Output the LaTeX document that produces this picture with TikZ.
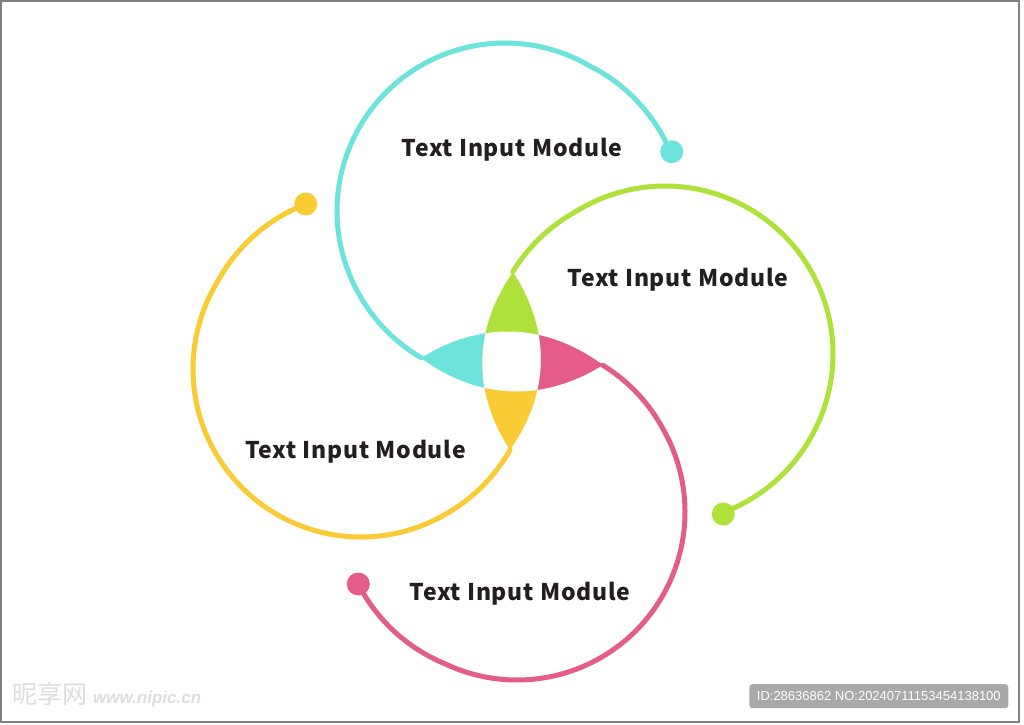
\documentclass[tikz,border=0pt]{standalone}
\usepackage{fontspec}
\setmainfont{Noto Sans CJK SC}
\newfontfamily\lblfont{Noto Sans CJK SC}[LetterSpace=3.5]
\newfontfamily\idfont{Liberation Sans}
\definecolor{cyanc}{HTML}{6CE3DB}
\definecolor{greenc}{HTML}{AEE23A}
\definecolor{pinkc}{HTML}{E45C89}
\definecolor{yellowc}{HTML}{F9CB34}
\definecolor{textc}{HTML}{231F20}
\definecolor{framec}{HTML}{808080}
\definecolor{wmgray}{HTML}{A9A9A9}
\definecolor{logoc}{HTML}{DDDDDD}
\newcommand\spiralarc[7]{%
  \draw[#7, line width=5pt, line cap=round] plot[domain=#3:#4, samples=160, variable=\t]
  ({#1+(168+#5*max(0,1-(\t-#3)/30)+#6*max(0,1-(#4-\t)/40))*cos(\t)},
   {#2+(168+#5*max(0,1-(\t-#3)/30)+#6*max(0,1-(#4-\t)/40))*sin(\t)});}
\tikzset{
  dotnode/.style={circle, inner sep=0pt, minimum size=23pt},
  lbl/.style={font=\lblfont\fontsize{23}{28}\selectfont\bfseries, text=textc, inner sep=0pt, anchor=base},
  petal/.style={bend left=34},
}
\begin{document}
\begin{tikzpicture}[x=1pt,y=-1pt]
\useasboundingbox (0,0) rectangle (1024,724);
\fill[white] (0,0) rectangle (1024,724);
\draw[framec, line width=1.5pt] (1,1) rectangle (1019,722);

% tips of the central star
\coordinate (HL) at (421,358);
\coordinate (HR) at (603,365);
\coordinate (VT) at (513,272);
\coordinate (VB) at (510,450);

% arcs
\spiralarc{505}{211}{119.7}{340.4}{1}{7.8}{cyanc}
\spiralarc{665}{354}{208.4}{430}{5}{0.8}{greenc}
\spiralarc{517}{512}{300.3}{515.6}{2}{6.4}{pinkc}
\spiralarc{361}{369}{28.5}{251.5}{1.6}{6}{yellowc}

% petals
\begin{scope}
  \clip (0,0) rectangle (511.5,724);
  \fill[cyanc] (HL) to[petal] (HR) to[petal] (HL) -- cycle;
\end{scope}
\begin{scope}
  \clip (511.5,0) rectangle (1024,724);
  \fill[pinkc] (HL) to[petal] (HR) to[petal] (HL) -- cycle;
\end{scope}
\begin{scope}
  \clip (0,0) rectangle (1024,361.5);
  \fill[greenc] (VT) to[petal] (VB) to[petal] (VT) -- cycle;
\end{scope}
\begin{scope}
  \clip (0,361.5) rectangle (1024,724);
  \fill[yellowc] (VT) to[petal] (VB) to[petal] (VT) -- cycle;
\end{scope}
\begin{scope}
  \clip (HL) to[petal] (HR) to[petal] (HL) -- cycle;
  \fill[white] (VT) to[petal] (VB) to[petal] (VT) -- cycle;
\end{scope}

% end dots
\node[dotnode, fill=cyanc] (cdot) at (671.7,151.7) {};
\node[dotnode, fill=greenc] (gdot) at (723.3,514) {};
\node[dotnode, fill=pinkc] (pdot) at (358.3,584) {};
\node[dotnode, fill=yellowc] (ydot) at (305.7,204) {};

% labels
\node[lbl] (tc) at (512,156) {Text Input Module};
\node[lbl] (tg) at (678,286) {Text Input Module};
\node[lbl] (ty) at (355.5,458.3) {Text Input Module};
\node[lbl] (tp) at (520,600.7) {Text Input Module};

% watermarks
\node[fill=wmgray, rounded corners=3pt, minimum width=259pt, minimum height=24pt,
      inner sep=0pt, text=white, font=\idfont\fontsize{13}{15}\selectfont] (wm)
      at (878.8,696.2) {ID:28636862 NO:20240711153454138100};
\node[anchor=west, inner sep=0pt, text=logoc] (logo) at (12,695)
      {{\fontsize{25}{28}\selectfont 昵享网}\hspace{6pt}{\idfont\fontsize{17}{20}\selectfont\bfseries\itshape www.nipic.cn}};
\end{tikzpicture}
\end{document}
